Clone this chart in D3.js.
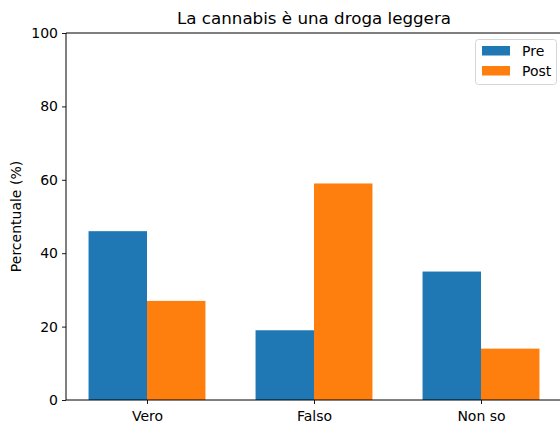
<!DOCTYPE html>
<html>
<head>
<meta charset="utf-8">
<script src="https://cdn.jsdelivr.net/npm/d3@7"></script>
<style>
  body { margin: 0; background: #fff; }
  text { font-family: "DejaVu Sans", sans-serif; fill: #000; }
</style>
</head>
<body>
<div id="chart"></div>
<script>
var categories = ["Vero", "Falso", "Non so"];
var series = ["Pre", "Post"];
var preValues = [46, 19, 35];
var postValues = [27, 59, 14];
var yTicks = [0, 20, 40, 60, 80, 100];
var colors = ["#1f77b4", "#ff7f0e"];

var width = 560, height = 423;
var margin = {top: 33, right: -2, bottom: 23, left: 66};
var innerW = width - margin.left - margin.right;
var innerH = height - margin.top - margin.bottom;

var svg = d3.select("#chart")
  .append("svg")
    .attr("width", width)
    .attr("height", height);

var g = svg.append("g")
    .attr("transform", "translate(" + margin.left + "," + margin.top + ")");

// matplotlib-like x: positions 0..n-1, bar width 0.35, 5% margin
var barW = 0.35;
var x = d3.scaleLinear()
    .domain([-barW - 0.135, categories.length - 1 + barW + 0.135])
    .range([0, innerW]);
var y = d3.scaleLinear().domain([0, 100]).range([innerH, 0]);

var rows = categories.map(function(c, i) {
  return {cat: c, i: i, vals: [preValues[i], postValues[i]]};
});

series.forEach(function(s, k) {
  g.append("g").selectAll("rect")
    .data(rows)
    .enter().append("rect")
      .attr("x", function(d) { return x(d.i - barW + k * barW); })
      .attr("width", function() { return x(barW) - x(0); })
      .attr("y", function(d) { return y(d.vals[k]); })
      .attr("height", function(d) { return innerH - y(d.vals[k]); })
      .attr("fill", colors[k]);
});

// axes
var yAxis = d3.axisLeft(y).tickValues(yTicks).tickSize(4).tickPadding(4);
var gy = g.append("g").call(yAxis);
gy.select(".domain").remove();
gy.selectAll("text").style("font-size", "14px");
gy.selectAll("line").attr("stroke", "#000").attr("stroke-width", 0.9);

var xAxis = d3.axisBottom(x)
    .tickValues(d3.range(categories.length))
    .tickFormat(function(d) { return categories[d]; })
    .tickSize(4).tickPadding(7);
var gx = g.append("g").attr("transform", "translate(0," + innerH + ")").call(xAxis);
gx.select(".domain").remove();
gx.selectAll("text").style("font-size", "14px");
gx.selectAll("line").attr("stroke", "#000").attr("stroke-width", 0.9);

// spines
g.append("line").attr("x1", 0).attr("x2", innerW).attr("y1", 0).attr("y2", 0)
  .attr("stroke", "#000").attr("stroke-width", 1);
g.append("line").attr("x1", 0).attr("x2", innerW).attr("y1", innerH).attr("y2", innerH)
  .attr("stroke", "#000").attr("stroke-width", 1);
g.append("line").attr("x1", 0).attr("x2", 0).attr("y1", 0).attr("y2", innerH)
  .attr("stroke", "#000").attr("stroke-width", 1);
g.append("line").attr("x1", innerW).attr("x2", innerW).attr("y1", 0).attr("y2", innerH)
  .attr("stroke", "#000").attr("stroke-width", 1);

// title
svg.append("text")
  .attr("x", margin.left + innerW / 2)
  .attr("y", 24)
  .attr("text-anchor", "middle")
  .style("font-size", "16.7px")
  .text("La cannabis è una droga leggera");

// y label
svg.append("text")
  .attr("transform", "translate(21," + (margin.top + innerH / 2) + ") rotate(-90)")
  .attr("text-anchor", "middle")
  .style("font-size", "14px")
  .text("Percentuale (%)");

// legend
var leg = svg.append("g").attr("transform", "translate(475.5,39.5)");
leg.append("rect")
  .attr("width", 81).attr("height", 45).attr("rx", 3)
  .attr("fill", "#fff").attr("fill-opacity", 0.8)
  .attr("stroke", "#d5d5d5").attr("stroke-width", 1);
series.forEach(function(s, k) {
  leg.append("rect")
    .attr("x", 6.5).attr("y", 6.5 + k * 20)
    .attr("width", 28).attr("height", 9.5)
    .attr("fill", colors[k]);
  leg.append("text")
    .attr("x", 46.5).attr("y", 11.5 + k * 20)
    .attr("dy", "0.35em")
    .style("font-size", "14px")
    .text(s);
});
</script>
</body>
</html>
